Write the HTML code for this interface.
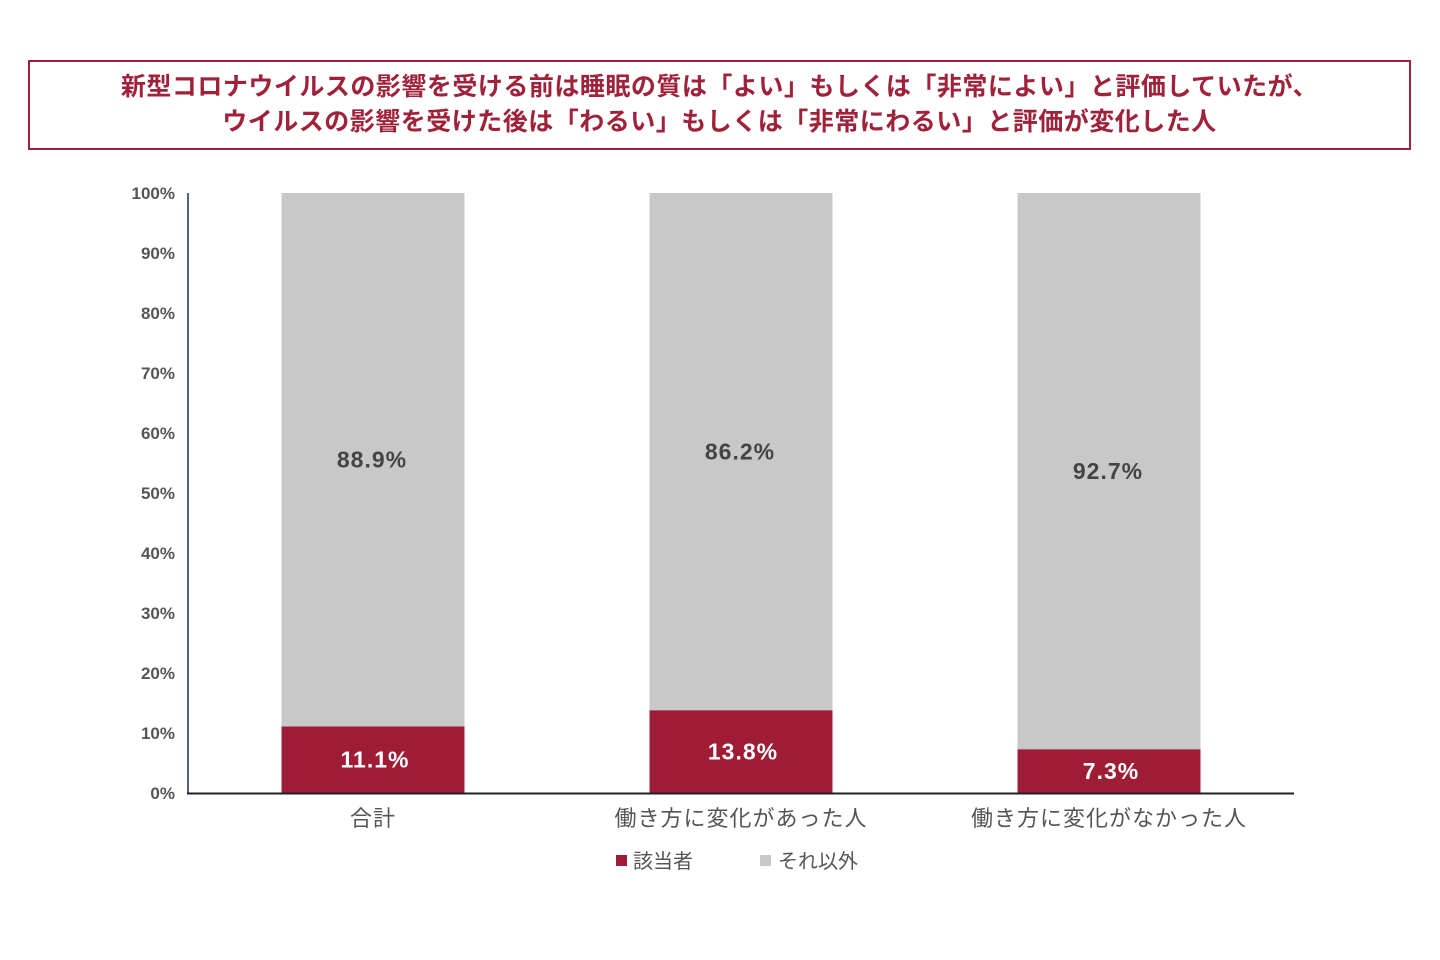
<!DOCTYPE html>
<html><head><meta charset="utf-8">
<style>
html,body{margin:0;padding:0;background:#fff;}
body{width:1440px;height:960px;position:relative;overflow:hidden;font-family:"Liberation Sans","Noto Sans CJK JP",sans-serif;}
#title{position:absolute;left:28px;top:60px;width:1379px;height:86px;border:2px solid #a0223a;box-sizing:content-box;color:#a0223a;font-weight:bold;font-size:25px;line-height:35px;text-align:center;padding-top:0;}
#title div{letter-spacing:0.5px}
</style></head><body>
<div id="title">
<div style="margin-top:8px">新型コロナウイルスの影響を受ける前は睡眠の質は「よい」もしくは「非常によい」と評価していたが、</div>
<div>ウイルスの影響を受けた後は「わるい」もしくは「非常にわるい」と評価が変化した人</div>
</div>
<svg id="chart" width="1440" height="960" style="position:absolute;left:0;top:0"></svg>
<script>
const categories=["合計","働き方に変化があった人","働き方に変化がなかった人"];
const applicable=[11.1,13.8,7.3];
const others=[88.9,86.2,92.7];
const yTicks=[0,10,20,30,40,50,60,70,80,90,100];
const NS="http://www.w3.org/2000/svg";
const svg=document.getElementById('chart');
const y0=793,yTop=193;
function y(v){return y0-(v/100)*(y0-yTop);}
const bandStart=190,bandW=368,barW=183;
function xc(i){return bandStart+bandW*i+bandW/2-1;}
function mk(tag,attrs,txt){const e=document.createElementNS(NS,tag);for(const k in attrs)e.setAttribute(k,attrs[k]);if(txt!==undefined)e.textContent=txt;svg.appendChild(e);return e;}
const F='"Liberation Sans","Noto Sans CJK JP",sans-serif';
yTicks.forEach(t=>{
 const e=mk('text',{x:175,y:y(t)+6,'text-anchor':'end','font-size':17,'font-weight':'bold',fill:'#555','font-family':F},t+'%');
 
 
});
categories.forEach((c,i)=>{
 const x=xc(i)-barW/2;
 const r=mk('rect',{x:x,y:y(applicable[i]),width:barW,height:y(0)-y(applicable[i]),fill:'#9e1c34'});
 
 
 const g=mk('rect',{x:x,y:y(applicable[i]+others[i]),width:barW,height:y(applicable[i])-y(applicable[i]+others[i]),fill:'#c8c8c8'});
 
 
 const l1=mk('text',{x:xc(i)+2,y:y(applicable[i]/2)+8,'text-anchor':'middle','font-size':23,'font-weight':'bold',fill:'#fff','font-family':F,'letter-spacing':1},applicable[i].toFixed(1)+'%');
 
 
 const l2=mk('text',{x:xc(i)-1,y:y(applicable[i]+others[i]/2)+8,'text-anchor':'middle','font-size':23,'font-weight':'bold',fill:'#444','font-family':F,'letter-spacing':1},others[i].toFixed(1)+'%');
 
 
 const cl=mk('text',{x:xc(i),y:826,'text-anchor':'middle','font-size':22,fill:'#555','font-family':F,'letter-spacing':1},c);
 
 
});
const ya=mk('line',{x1:188,y1:193,x2:188,y2:794,stroke:'#56607a','stroke-width':2});


const xa=mk('line',{x1:187,y1:793.5,x2:1294,y2:793.5,stroke:'#222','stroke-width':2});


const lg1=mk('rect',{x:616,y:855,width:11,height:11,fill:'#9e1c34'});


const lt1=mk('text',{x:633,y:868,'font-size':20,fill:'#555','font-family':F},'該当者');


const lg2=mk('rect',{x:760,y:855,width:11,height:11,fill:'#c8c8c8'});


const lt2=mk('text',{x:778,y:868,'font-size':20,fill:'#555','font-family':F},'それ以外');


</script>
</body></html>
